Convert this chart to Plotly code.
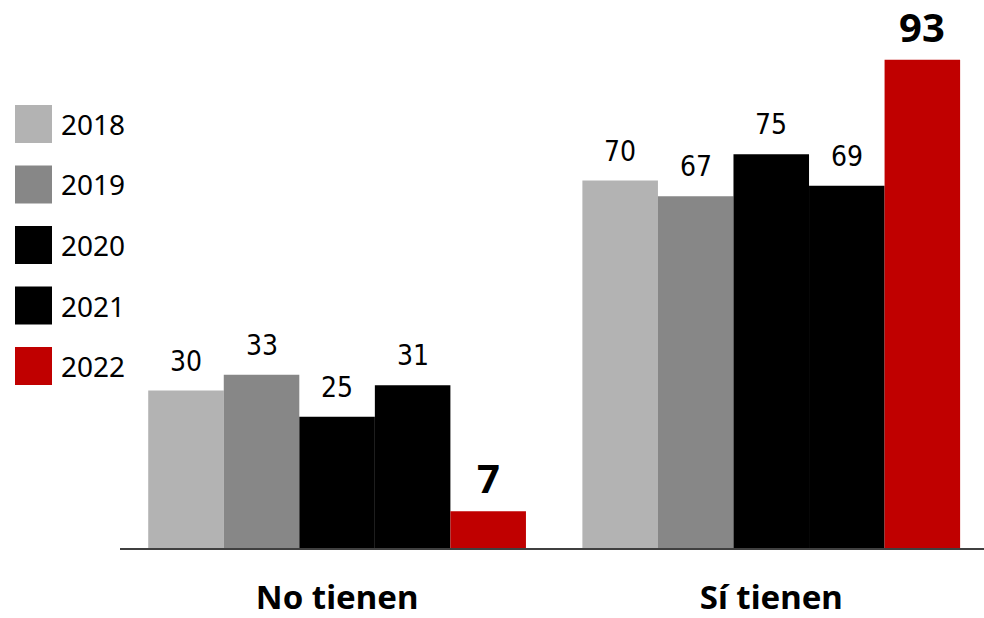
import plotly.graph_objects as go

categories = ["No tienen", "Sí tienen"]
years = ["2018", "2019", "2020", "2021", "2022"]
values = {
    "2018": [30, 70],
    "2019": [33, 67],
    "2020": [25, 75],
    "2021": [31, 69],
    "2022": [7, 93],
}
colors = ["#B3B3B3", "#878787", "#000000", "#000000", "#C00000"]
highlight_year = "2022"

W, H = 984, 618
ML, MR, MT, MB = 120, 0, 23, 70
BARGAP = 0.13

fig = go.Figure()
for yr, col in zip(years, colors):
    fig.add_trace(go.Bar(
        name=yr, x=[0, 1], y=values[yr],
        marker=dict(color=col, line=dict(width=0)),
        showlegend=False,
    ))

# value labels via annotations, positioned from data + bar geometry
n = len(years)
bw = (1 - BARGAP) / n
annotations = []
for i, yr in enumerate(years):
    for ci, v in enumerate(values[yr]):
        xpos = ci + (i - (n - 1) / 2) * bw
        bold = yr == highlight_year
        annotations.append(dict(
            x=xpos, y=v, xref="x", yref="y", text=f"<b>{v}</b>" if bold else str(v),
            showarrow=False, yanchor="bottom", xanchor="center",
            yshift=4 if bold else 11,
            font=dict(family="Noto Sans" if bold else "DejaVu Sans Condensed, Liberation Sans Narrow, Liberation Sans",
                      size=40 if bold else 28, color="#000000"),
        ))

# custom legend (large squares) in paper coordinates
pw = W - ML - MR
ph = H - MT - MB
def px_to_paper_x(px):
    return (px - ML) / pw
def px_to_paper_y(py):
    return (H - MB - py) / ph

shapes = []
leg_top = 105
leg_step = 60.5
sq = 38
for i, (yr, col) in enumerate(zip(years, colors)):
    top = leg_top + i * leg_step
    shapes.append(dict(
        type="rect", xref="paper", yref="paper",
        x0=px_to_paper_x(15), x1=px_to_paper_x(15 + 37),
        y0=px_to_paper_y(top + sq), y1=px_to_paper_y(top),
        fillcolor=col, line=dict(width=0), layer="above",
    ))
    annotations.append(dict(
        x=px_to_paper_x(59), y=px_to_paper_y(top + sq / 2), xref="paper", yref="paper",
        text=yr, showarrow=False, xanchor="left", yanchor="middle",
        font=dict(family="Noto Sans", size=28, color="#000000"),
    ))

fig.update_layout(
    width=W, height=H,
    margin=dict(l=ML, r=MR, t=MT, b=MB, autoexpand=False),
    barmode="group", bargap=BARGAP, bargroupgap=0,
    plot_bgcolor="white", paper_bgcolor="white",
    annotations=annotations, shapes=shapes,
    xaxis=dict(
        tickvals=[0, 1], ticktext=[f"<b>{c}</b>" for c in categories], range=[-0.5, 1.49],
        showline=True, linecolor="#404040", linewidth=2,
        ticks="outside", ticklen=19, tickcolor="rgba(0,0,0,0)",
        tickfont=dict(family="Noto Sans", size=33, color="#000000"),
        showgrid=False, zeroline=False, automargin=False,
    ),
    yaxis=dict(range=[0, 100], visible=False, showgrid=False, zeroline=False),
    font=dict(family="Noto Sans"),
)

fig.write_html("out.html")
